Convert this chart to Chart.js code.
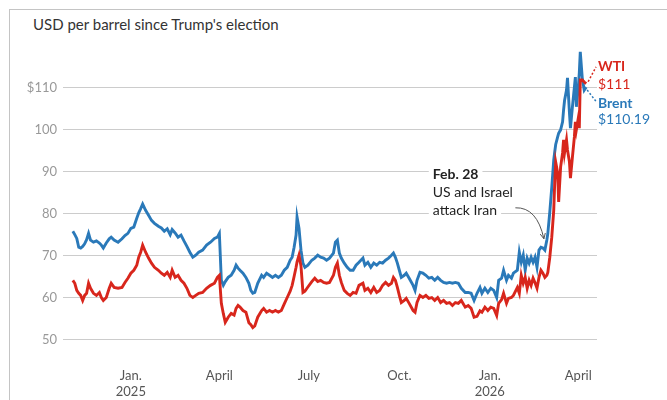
<!DOCTYPE html>
<html>
<head>
<meta charset="utf-8">
<script src="https://cdn.jsdelivr.net/npm/chart.js@4.4.1/dist/chart.umd.min.js"></script>
<style>
    html, body { margin:0; padding:0; background:#fff; }
    .frame { position:absolute; left:9px; top:9px; width:660px; height:395px; border-left:1px solid #c4c4c4; border-top:1px solid #c4c4c4; }
    .title { position:absolute; left:33px; top:15px; font:15px Lato, sans-serif; color:#333; }
    .chart-container { position:absolute; left:0; top:0; width:667px; height:400px; }
</style>
</head>
<body>
<div class="frame"></div>
<div class="title">USD per barrel since Trump's election</div>
<div class="chart-container"><canvas id="c"></canvas></div>
<script>
// days counted from Jan 1, 2025
const days = [
    -59,-57,-55,-53,-51,-49,-47,-45,-43,-41,-38,-35,-32,-30,-28,-25,-22,-20,-17,-13,-9,-6,-3,
    0,3,6,8,10,12,15,18,21,24,28,31,34,37,40,42,45,48,51,54,57,60,63,66,69,73,77,81,85,88,90,
    92,94,96,99,102,105,107,109,111,114,117,120,122,124,126,129,133,135,138,141,144,147,150,153,
    156,159,162,164,166,168,169,171,173,175,177,180,184,187,190,193,196,199,202,206,208,210,212,
    214,217,220,223,226,229,232,236,238,241,244,247,250,253,256,259,262,265,267,269,271,273,275,
    278,280,283,287,289,291,294,297,300,303,306,309,312,315,318,321,324,327,330,333,336,340,343,
    346,349,352,355,357,360,363,366,369,372,374,377,379,382,384,387,389,393,395,397,399,401,403,
    405,407,409,411,413,415,417,419,421,423,424,426,428,430,431,432,434,435,437,439,440,441,443,
    444,446,447,449,451,452,453,455,456,457,459,461,463
];

const brent = [
    75.8,75.0,74.1,72.0,71.8,72.2,72.8,73.8,75.3,73.7,73.2,73.5,73.0,72.5,71.8,73.0,74.0,74.4,73.7,73.2,74.0,74.8,75.3,
    76.5,76.8,78.9,80.2,81.2,82.3,80.8,79.6,78.4,77.7,77.0,76.6,75.8,76.4,75.0,76.2,75.4,74.4,74.9,73.5,72.2,70.8,69.6,70.1,70.8,71.3,72.5,73.2,74.1,74.4,75.3,
    64.1,62.9,63.8,64.8,65.3,66.5,67.7,67.0,66.5,65.8,64.8,63.4,61.7,61.0,61.2,63.4,65.3,64.8,65.8,65.3,64.8,65.3,64.8,65.3,
    66.5,67.2,68.9,69.6,72.0,74.9,79.2,76.5,71.3,68.2,67.2,67.7,68.9,69.4,70.1,69.6,69.4,68.9,69.4,70.6,73.2,73.7,70.6,
    69.4,68.2,67.2,66.5,66.5,67.7,68.4,69.4,67.7,68.4,67.2,68.2,67.7,68.4,68.2,68.9,69.4,70.1,70.6,69.6,68.2,66.5,64.8,
    65.3,65.8,64.6,62.9,61.7,64.1,66.0,65.8,65.3,64.6,64.8,64.1,64.8,64.1,63.6,63.4,63.6,63.4,63.6,63.4,62.2,61.2,61.2,
    61.0,59.3,61.0,62.4,61.0,62.2,61.2,62.2,61.7,60.0,64.1,64.6,66.5,64.1,65.3,64.6,65.8,66.5,70.8,68.4,70.1,66.5,69.4,
    68.2,69.6,68.4,69.6,67.2,71.3,72.0,71.8,71.3,73.7,75.3,80.4,86.3,92.8,94.7,96.5,98.3,99.2,100.0,101.9,104.7,107.0,109.5,
    112.4,104.0,100.4,105.5,110.2,112.6,105.5,110.2,113.6,118.6,112.4,109.5,110.2
];

const wti = [
    64.1,63.4,61.7,61.0,60.5,59.3,60.5,61.0,63.4,62.2,61.0,60.5,61.2,60.0,59.3,60.0,62.2,63.4,62.4,62.2,62.4,63.6,64.6,
    65.8,66.5,67.7,69.6,70.8,72.5,70.8,69.4,68.2,67.2,66.5,65.8,65.3,66.0,64.8,66.5,64.8,65.3,64.1,63.4,62.2,60.5,60.0,60.5,61.0,61.2,62.2,62.9,63.4,64.8,65.3,
    58.6,56.2,54.1,55.3,56.2,55.8,57.4,58.1,57.7,56.9,56.5,54.0,53.5,52.8,53.2,55.3,56.9,57.4,56.5,56.9,56.5,56.9,56.5,56.9,
    58.5,60.0,61.5,62.9,65.0,67.2,68.5,70.1,67.5,61.2,61.5,62.5,63.8,64.6,63.8,64.1,63.6,63.4,63.6,65.3,67.2,68.2,65.3,
    63.6,61.7,61.0,60.5,61.2,61.0,62.9,63.4,61.7,62.2,61.2,62.4,61.2,61.7,62.9,63.6,62.9,63.4,64.8,64.1,62.4,60.5,58.8,
    59.3,59.8,58.6,56.9,56.5,58.8,60.5,60.0,60.5,59.8,60.0,59.3,60.0,58.8,59.3,58.6,58.8,58.1,58.8,58.6,59.3,57.7,58.1,
    57.4,55.3,55.5,56.8,56.5,57.7,56.9,57.7,57.4,55.7,58.6,59.5,61.0,58.6,59.8,60.0,60.5,62.4,61.0,65.3,63.4,64.8,62.2,
    64.1,62.9,64.6,63.5,62.2,64.8,66.5,65.8,64.8,65.3,66.0,69.6,74.4,80.8,87.3,92.3,89.7,82.8,91.1,94.5,97.6,94.5,97.6,
    95.2,92.3,88.5,93.5,98.3,101.9,100.0,102.8,100.4,111.9,111.9,111.4,111.0
];

const yTicks = [50, 60, 70, 80, 90, 100, 110];
const tickDays = [0, 90, 181, 273, 365, 455];
const tickLabels = [["Jan.", "2025"], "April", "July", "Oct.", ["Jan.", "2026"], "April"];

const RED = "#d8261c";
const BLUE = "#2a79b9";

const notes = {
    id: "notes",
    beforeDatasetsDraw(chart) {
        const { ctx, scales: { x, y } } = chart;
        ctx.save();
        const lx = x.getPixelForValue(307);
        const lines = [
            ["Feb. 28", "bold 14px Lato, sans-serif", 89.4],
            ["US and Israel", "14px Lato, sans-serif", 85.1],
            ["attack Iran", "14px Lato, sans-serif", 80.8]
        ];
        ctx.textBaseline = "middle";
        ctx.textAlign = "left";
        lines.forEach(([t, f, v]) => {
            ctx.font = f;
            const w = ctx.measureText(t).width;
            const py = y.getPixelForValue(v);
            ctx.fillStyle = "#fff";
            ctx.fillRect(lx - 4, py - 8, w + 8, 16);
            ctx.fillStyle = "#222";
            ctx.fillText(t, lx, py);
        });

        // curved arrow
        const sx = x.getPixelForValue(391), sy = y.getPixelForValue(81.4);
        const ex = x.getPixelForValue(420), ey = y.getPixelForValue(74);
        const cx = x.getPixelForValue(413), cy = y.getPixelForValue(81.6);
        ctx.strokeStyle = "#555";
        ctx.lineWidth = 1;
        ctx.beginPath();
        ctx.moveTo(sx, sy);
        ctx.quadraticCurveTo(cx, cy, ex, ey);
        ctx.stroke();
        const ang = Math.atan2(ey - cy, ex - cx);
        ctx.beginPath();
        ctx.moveTo(ex, ey);
        ctx.lineTo(ex - 6 * Math.cos(ang - 0.45), ey - 6 * Math.sin(ang - 0.45));
        ctx.moveTo(ex, ey);
        ctx.lineTo(ex - 6 * Math.cos(ang + 0.45), ey - 6 * Math.sin(ang + 0.45));
        ctx.stroke();
        ctx.restore();
    },
    afterDraw(chart) {
        const { ctx, scales: { x, y } } = chart;
        const n = days.length - 1;
        ctx.save();
        const tx = x.getPixelForValue(475);

        // leader lines
        ctx.lineWidth = 1.5;
        ctx.setLineDash([2, 2]);
        ctx.strokeStyle = RED;
        ctx.beginPath();
        ctx.moveTo(x.getPixelForValue(days[n]) + 2, y.getPixelForValue(wti[n]) - 2);
        ctx.lineTo(tx - 2, y.getPixelForValue(115));
        ctx.stroke();
        ctx.strokeStyle = BLUE;
        ctx.beginPath();
        ctx.moveTo(x.getPixelForValue(days[n]) + 1, y.getPixelForValue(brent[n]) + 3);
        ctx.lineTo(tx - 2, y.getPixelForValue(106.8));
        ctx.stroke();
        ctx.setLineDash([]);

        ctx.textAlign = "left";
        ctx.textBaseline = "middle";
        ctx.fillStyle = RED;
        ctx.font = "bold 14px Lato, sans-serif";
        ctx.fillText("WTI", tx, y.getPixelForValue(115));
        ctx.font = "14px Lato, sans-serif";
        ctx.fillText("$" + wti[n].toFixed(0), tx, y.getPixelForValue(110.7));
        ctx.fillStyle = BLUE;
        ctx.font = "bold 14px Lato, sans-serif";
        ctx.fillText("Brent", tx, y.getPixelForValue(106.4));
        ctx.font = "14px Lato, sans-serif";
        ctx.fillText("$110.19", tx, y.getPixelForValue(102.4));
        ctx.restore();
    }
};

new Chart(
    document.getElementById("c"),
    {
        type: "line",
        data: {
            datasets: [
                {
                    label: "WTI",
                    data: days.map((d, i) => ({ x: d, y: wti[i] })),
                    borderColor: RED,
                    borderWidth: 2.9,
                    pointRadius: 0,
                    tension: 0
                },
                {
                    label: "Brent",
                    data: days.map((d, i) => ({ x: d, y: brent[i] })),
                    borderColor: BLUE,
                    borderWidth: 2.9,
                    pointRadius: 0,
                    tension: 0
                }
            ]
        },
        options: {
            responsive: true,
            maintainAspectRatio: false,
            animation: false,
            layout: { padding: { top: 46, right: 70, left: 0, bottom: 0 } },
            plugins: { legend: { display: false }, tooltip: { enabled: false } },
            scales: {
                x: {
                    type: "linear",
                    min: -69,
                    max: 474,
                    grid: { display: false },
                    border: { display: false },
                    afterBuildTicks: (s) => { s.ticks = tickDays.map(v => ({ value: v })); },
                    afterFit: (s) => { s.height = 48; },
                    ticks: {
                        padding: 8,
                        autoSkip: false,
                        maxRotation: 0,
                        color: "#555",
                        font: { family: "Lato", size: 13 },
                        callback: (v) => tickLabels[tickDays.indexOf(v)]
                    }
                },
                y: {
                    min: 47,
                    max: 120,
                    afterBuildTicks: (s) => { s.ticks = yTicks.map(v => ({ value: v })); },
                    afterFit: (s) => { s.width = 63; },
                    grid: { color: "#cccccc", lineWidth: 1, drawTicks: false },
                    border: { display: false },
                    ticks: {
                        padding: 6,
                        color: "#999",
                        font: { family: "Lato", size: 13 },
                        callback: (v) => v === 110 ? "$110" : v
                    }
                }
            }
        },
        plugins: [notes]
    }
);
</script>
</body>
</html>
